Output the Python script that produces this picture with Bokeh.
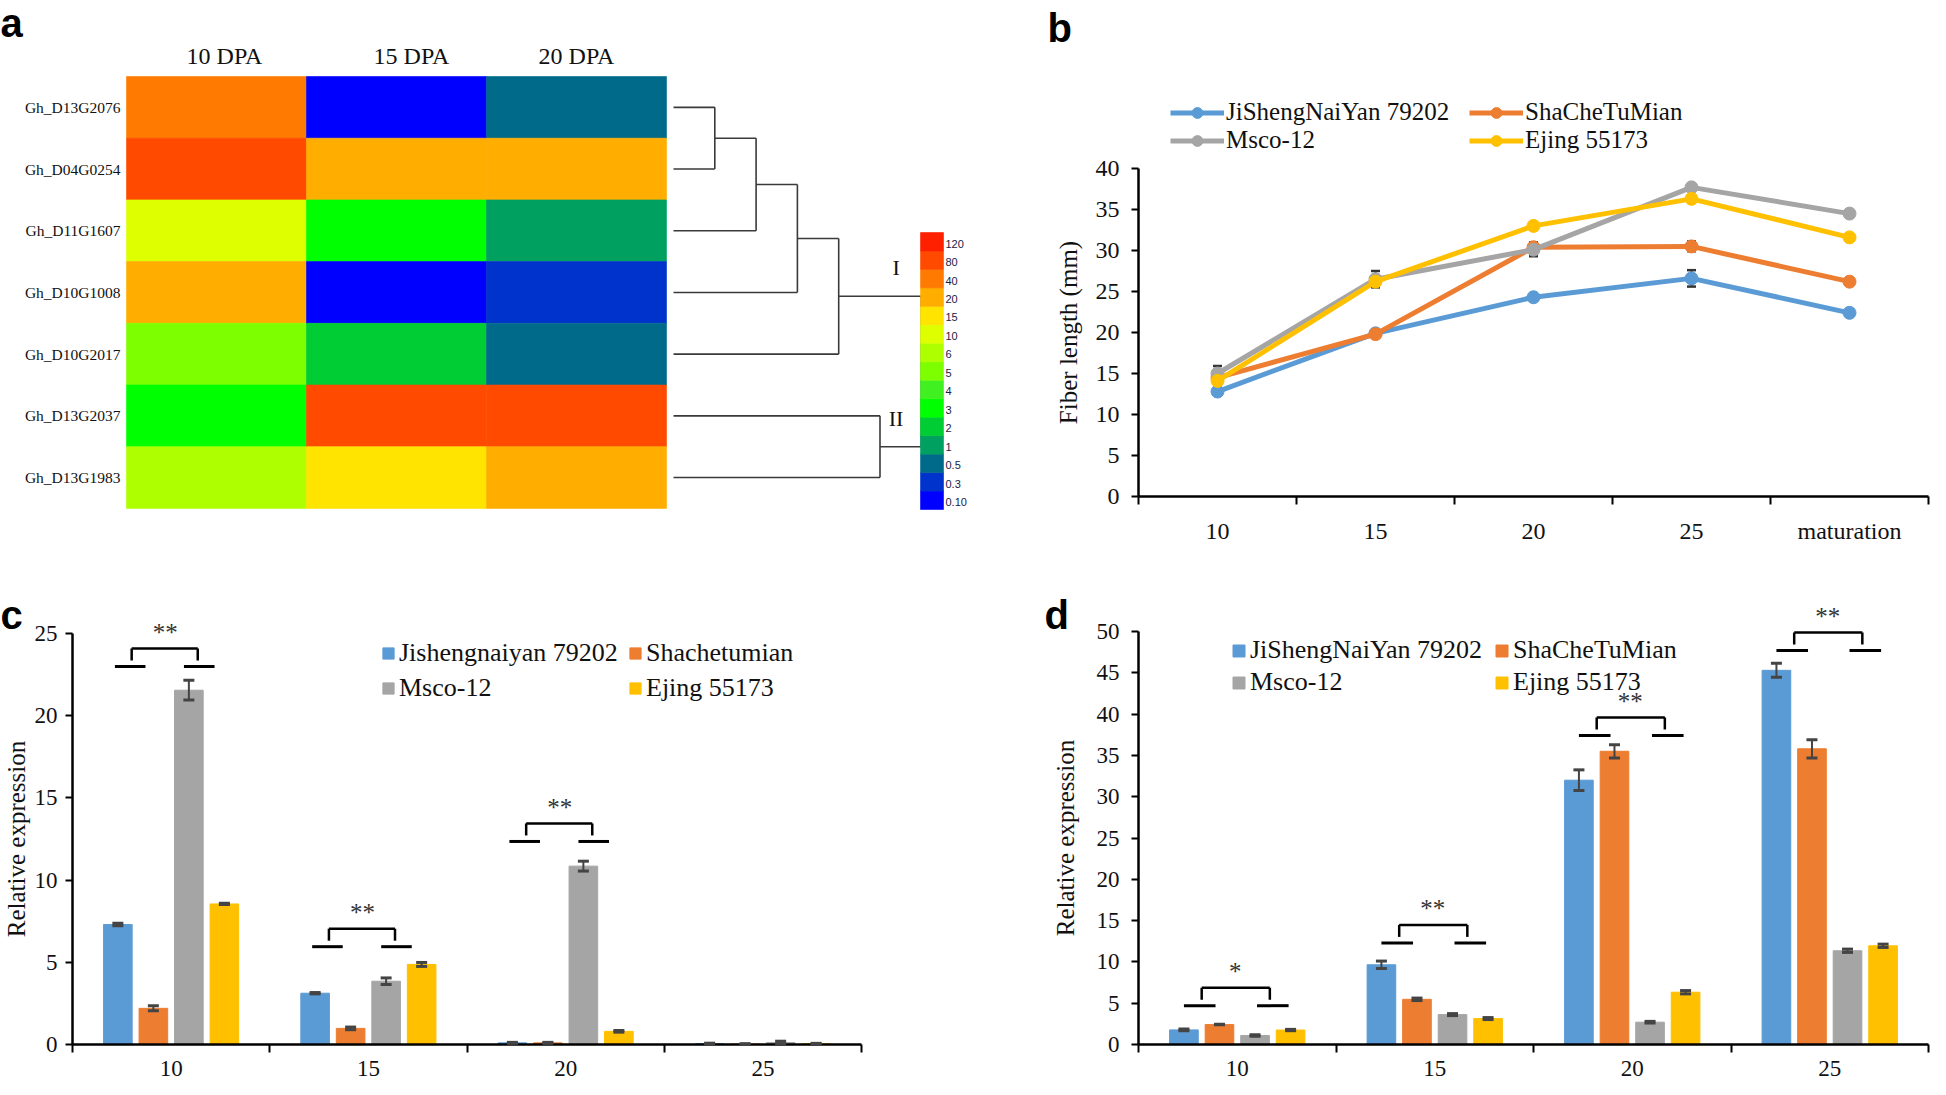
from bokeh.plotting import figure
from bokeh.models import (Range1d, FixedTicker, Label, Legend, LegendItem, Whisker,
                          ColumnDataSource, TeeHead)
from bokeh.layouts import column, row
from bokeh.embed import file_html
from bokeh.resources import INLINE
from bokeh.core.properties import value

SERIF = "Liberation Serif"
SANS = "Liberation Sans"

# ======================= DATA =======================
# ---- panel a : heatmap + clustering ----
genes = ["Gh_D13G2076", "Gh_D04G0254", "Gh_D11G1607", "Gh_D10G1008",
         "Gh_D10G2017", "Gh_D13G2037", "Gh_D13G1983"]
stages_a = ["10 DPA", "15 DPA", "20 DPA"]
expr_10dpa = [40, 80, 10, 20, 5, 3, 6]
expr_15dpa = [0.1, 20, 3, 0.1, 2, 80, 15]
expr_20dpa = [0.5, 20, 1, 0.3, 0.5, 80, 20]
scale_levels = [0.1, 0.3, 0.5, 1, 2, 3, 4, 5, 6, 10, 15, 20, 40, 80, 120]
scale_labels = ["0.10", "0.3", "0.5", "1", "2", "3", "4", "5", "6",
                "10", "15", "20", "40", "80", "120"]
scale_colors = ["#0000FF", "#0033CC", "#006A8A", "#00A060", "#00CC33", "#00FF00",
                "#40F020", "#7DFF00", "#AEFF00", "#DEFF00", "#FFE400", "#FFAE00",
                "#FF7A00", "#FF4A00", "#FF2000"]
tree_merges = [(0, 1), (7, 2), (8, 3), (9, 4), (5, 6), (10, 11)]
tree_heights = [1, 2, 3, 4, 5, 6]
cluster_nodes = [10, 11]
cluster_names = ["I", "II"]

# ---- panel b : fiber length ----
stages_b = ["10", "15", "20", "25", "maturation"]
cultivars_b = ["JiShengNaiYan 79202", "ShaCheTuMian", "Msco-12", "Ejing 55173"]
len_jisheng = [12.8, 19.9, 24.3, 26.6, 22.4]
len_shache = [14.5, 19.8, 30.4, 30.5, 26.2]
len_msco = [15.0, 26.5, 30.1, 37.7, 34.5]
len_ejing = [14.1, 26.2, 33.0, 36.3, 31.6]
err_jisheng = [0.3, 0.3, 0.3, 1.0, 0.3]
err_shache = [0.3, 0.3, 0.6, 0.6, 0.3]
err_msco = [0.9, 1.0, 0.8, 0.3, 0.3]
err_ejing = [0.3, 0.3, 0.3, 0.3, 0.3]

# ---- panel c : relative expression ----
stages_c = ["10", "15", "20", "25"]
cultivars_c = ["Jishengnaiyan 79202", "Shachetumian", "Msco-12", "Ejing 55173"]
c_jisheng = [7.3, 3.12, 0.1, 0.05]
c_shache = [2.2, 0.98, 0.1, 0.03]
c_msco = [21.55, 3.85, 10.85, 0.12]
c_ejing = [8.55, 4.87, 0.8, 0.05]
c_err_jisheng = [0.08, 0.04, 0.03, 0.03]
c_err_shache = [0.15, 0.08, 0.03, 0.02]
c_err_msco = [0.6, 0.2, 0.3, 0.08]
c_err_ejing = [0.04, 0.12, 0.05, 0.02]
c_sig_groups = ["10", "15", "20"]
c_sig_level = [23.0, 5.95, 12.35]
c_sig_marks = ["**", "**", "**"]

# ---- panel d : relative expression ----
stages_d = ["10", "15", "20", "25"]
cultivars_d = ["JiShengNaiYan 79202", "ShaCheTuMian", "Msco-12", "Ejing 55173"]
d_jisheng = [1.77, 9.65, 32.0, 45.3]
d_shache = [2.41, 5.47, 35.5, 35.8]
d_msco = [1.09, 3.62, 2.7, 11.35]
d_ejing = [1.75, 3.14, 6.33, 11.95]
d_err_jisheng = [0.12, 0.45, 1.25, 0.85]
d_err_shache = [0.03, 0.15, 0.8, 1.1]
d_err_msco = [0.1, 0.12, 0.1, 0.2]
d_err_ejing = [0.08, 0.12, 0.2, 0.2]
d_sig_groups = ["10", "15", "20", "25"]
d_sig_level = [4.7, 12.3, 37.4, 47.7]
d_sig_marks = ["*", "**", "**", "**"]

series_colors = ["#5B9BD5", "#ED7D31", "#A5A5A5", "#FFC000"]
TXT = "#111111"

# ======================= PANEL A =======================
A_W, A_H, A_X0, A_Y0 = 1034, 560, 8, 8
HM_LEFT, HM_TOP, CELL_W, CELL_H = 134, 84, 180, 61.7


def ax(px):
    return (px - HM_LEFT) / CELL_W


def ay(py):
    return (py - HM_TOP) / CELL_H


pa = figure(width=A_W, height=A_H,
            x_range=Range1d(ax(A_X0), ax(A_X0 + A_W)),
            y_range=Range1d(ay(A_Y0 + A_H), ay(A_Y0)),
            x_axis_location=None, y_axis_location=None, frame_align=False,
            output_backend="svg", toolbar_location=None, min_border=0)
pa.outline_line_color = None
pa.grid.visible = False

table = [expr_10dpa, expr_15dpa, expr_20dpa]
hm = dict(left=[], right=[], top=[], bottom=[], color=[])
for ci, col in enumerate(table):
    for ri, v in enumerate(col):
        hm["left"].append(ci)
        hm["right"].append(ci + 1)
        hm["top"].append(ri)
        hm["bottom"].append(ri + 1)
        hm["color"].append(scale_colors[scale_levels.index(v)])
pa.quad(left="left", right="right", top="top", bottom="bottom", fill_color="color",
        line_color="color", line_width=0.6, source=ColumnDataSource(hm))

header_x = [ax(232), ax(419), ax(584)]
pa.text(x=header_x, y=[ay(63)] * len(stages_a), text=stages_a,
        text_align="center", text_baseline="middle", text_font=value(SERIF),
        text_font_size="24px", text_color=TXT)
pa.text(x=[ax(128)] * len(genes), y=[i + 0.5 for i in range(len(genes))], text=genes,
        text_align="right", text_baseline="middle", text_font=value(SERIF),
        text_font_size="15.5px", text_color=TXT)

# dendrogram
TREE_X0, TREE_DX = ax(681), 41.3 / CELL_W
n = len(genes)
node_h = {i: 0 for i in range(n)}
node_y = {i: i + 0.5 for i in range(n)}
dxs, dys = [], []
for k, ((a, b), h) in enumerate(zip(tree_merges, tree_heights)):
    nid = n + k
    node_h[nid] = h
    node_y[nid] = (node_y[a] + node_y[b]) / 2
    for c in (a, b):
        dxs.append([TREE_X0 + node_h[c] * TREE_DX, TREE_X0 + h * TREE_DX])
        dys.append([node_y[c], node_y[c]])
    dxs.append([TREE_X0 + h * TREE_DX, TREE_X0 + h * TREE_DX])
    dys.append([node_y[a], node_y[b]])
pa.multi_line(xs=dxs, ys=dys, line_color="#3a3a3a", line_width=1.6)

root_h = tree_heights[-1]
pa.text(x=[TREE_X0 + root_h * TREE_DX - 0.14] * len(cluster_nodes),
        y=[node_y[c] - 0.46 for c in cluster_nodes], text=cluster_names,
        text_align="center", text_baseline="middle", text_font=value(SERIF),
        text_font_size="22px", text_color=TXT)

# colour key
CB_L, CB_R, CB_BOTTOM, CB_STEP = ax(928), ax(951), ay(517), (517 - 240) / 15 / CELL_H
cb = dict(top=[], bottom=[], color=scale_colors, lab=scale_labels, ly=[])
for i in range(len(scale_levels)):
    cb["bottom"].append(CB_BOTTOM - i * CB_STEP)
    cb["top"].append(CB_BOTTOM - (i + 1) * CB_STEP)
    cb["ly"].append(CB_BOTTOM - (i + 0.4) * CB_STEP)
cbs = ColumnDataSource(cb)
pa.quad(left=CB_L, right=CB_R, top="top", bottom="bottom", fill_color="color",
        line_color="color", line_width=0.6, source=cbs)
pa.text(x=ax(953), y="ly", text="lab", source=cbs, text_align="left", text_baseline="middle",
        text_font=value(SANS), text_font_size="11px", text_color="#1a1a48")

pa.add_layout(Label(x=ax(A_X0), y=ay(30), text="a", text_font=SANS, text_font_size="40px",
                    text_font_style="bold", text_color="black", text_baseline="alphabetic"))


# ======================= chart panels (frame = whole canvas, axes pinned) =======================
class Panel:
    def __init__(self, x0, y0, w, h, x_px, y_px, ngroups, ytop):
        # x_px: page px of x=0.5 and x=ngroups+0.5 ; y_px: page px of y=0 and y=ytop
        self.xppu = (x_px[1] - x_px[0]) / ngroups
        self.yppu = (y_px[0] - y_px[1]) / ytop
        self.xa, self.ya0 = x_px[0], y_px[0]
        xr = Range1d(self.dx(x0), self.dx(x0 + w))
        yr = Range1d(self.dy(y0 + h), self.dy(y0))
        self.p = figure(width=w, height=h, x_range=xr, y_range=yr, min_border=0,
                        frame_align=False, output_backend="svg", toolbar_location=None)

    def dx(self, px):
        return 0.5 + (px - self.xa) / self.xppu

    def dy(self, py):
        return (self.ya0 - py) / self.yppu


def style_axes(P, labels, yticks, ylabel, ylabel_std, xstd, ystd, tick_size):
    p = P.p
    xa = p.xaxis[0]
    ng = len(labels)
    xa.fixed_location = 0
    xa.bounds = (0.5, ng + 0.5)
    xa.ticker = FixedTicker(ticks=list(range(1, ng + 1)),
                            minor_ticks=[i + 0.5 for i in range(ng + 1)])
    xa.major_label_overrides = {i + 1: lab for i, lab in enumerate(labels)}
    xa.major_tick_in = 0
    xa.major_tick_out = 0
    xa.minor_tick_in = 0
    xa.minor_tick_out = 8
    xa.minor_tick_line_color = "black"
    xa.minor_tick_line_width = 2
    xa.major_label_standoff = xstd
    ya = p.yaxis[0]
    ya.fixed_location = 0.5
    ya.bounds = (0, yticks[-1])
    ya.ticker = FixedTicker(ticks=yticks)
    ya.major_tick_in = 0
    ya.major_tick_out = 7
    ya.minor_tick_out = 0
    ya.minor_tick_in = 0
    ya.major_label_standoff = ystd
    ya.axis_label = ylabel
    ya.axis_label_standoff = ylabel_std
    ya.axis_label_text_font = SERIF
    ya.axis_label_text_font_size = "25px"
    ya.axis_label_text_font_style = "normal"
    ya.axis_label_text_color = TXT
    for a in (xa, ya):
        a.axis_line_color = "black"
        a.axis_line_width = 2.5
        a.major_tick_line_color = "black"
        a.major_tick_line_width = 2
        a.major_label_text_font = SERIF
        a.major_label_text_font_size = tick_size
        a.major_label_text_color = TXT
    p.grid.visible = False
    p.outline_line_color = None


def panel_letter(P, letter, px, py):
    P.p.add_layout(Label(x=P.dx(px), y=P.dy(py), text=letter, text_font=SANS,
                         text_font_size="40px", text_font_style="bold", text_color="black",
                         text_baseline="alphabetic", text_align="left"))


# ======================= PANEL B =======================
PB = Panel(1042, 8, 896, 560, (1146, 1936), (504, 176), len(stages_b), 40)
pb = PB.p
style_axes(PB, stages_b, list(range(0, 41, 5)), "Fiber length (mm)", 11, 13, 12, "24px")

xb = [i + 1 for i in range(len(stages_b))]
items_b = []
for name, vals, errs, colr in zip(cultivars_b, [len_jisheng, len_shache, len_msco, len_ejing],
                                  [err_jisheng, err_shache, err_msco, err_ejing], series_colors):
    src = ColumnDataSource(dict(x=xb, y=vals, up=[v + e for v, e in zip(vals, errs)],
                                lo=[v - e for v, e in zip(vals, errs)]))
    pb.add_layout(Whisker(base="x", upper="up", lower="lo", source=src, level="underlay",
                          line_color="#333333", line_width=2,
                          upper_head=TeeHead(size=9, line_color="#333333", line_width=2.5),
                          lower_head=TeeHead(size=9, line_color="#333333", line_width=2.5)))
    r1 = pb.line("x", "y", source=src, line_color=colr, line_width=5)
    r2 = pb.scatter("x", "y", source=src, size=13, fill_color=colr, line_color=colr)
    items_b.append(LegendItem(label=name, renderers=[r1, r2]))
pb.add_layout(Legend(items=items_b, orientation="horizontal", ncols=2, location=(136, 406),
                     glyph_width=54, glyph_height=27, spacing=0, padding=0, margin=0,
                     label_standoff=2, label_width=243, label_text_font=SERIF,
                     label_text_font_size="25px", label_text_color=TXT,
                     border_line_color=None, background_fill_alpha=0))
panel_letter(PB, "b", 1055, 35)

# ======================= bar panels =======================
BAR_OFF = [-0.27, -0.09, 0.09, 0.27]
BAR_W = 0.145


def bar_panel(P, stages, names, vals_list, errs_list, legend_loc, legend_glyph, leg_spacing,
              label_w):
    p = P.p
    items = []
    for k, (name, vals, errs, colr) in enumerate(zip(names, vals_list, errs_list, series_colors)):
        xs = [i + 1 + BAR_OFF[k] for i in range(len(stages))]
        src = ColumnDataSource(dict(x=xs, top=vals, up=[v + e for v, e in zip(vals, errs)],
                                    lo=[max(v - e, 0) for v, e in zip(vals, errs)]))
        r = p.vbar(x="x", top="top", width=BAR_W, bottom=0, source=src,
                   fill_color=colr, line_color=colr)
        p.add_layout(Whisker(base="x", upper="up", lower="lo", source=src, level="annotation",
                             line_color="#444444", line_width=2,
                             upper_head=TeeHead(size=11, line_color="#444444", line_width=3),
                             lower_head=TeeHead(size=11, line_color="#444444", line_width=3)))
        items.append(LegendItem(label=name, renderers=[r]))
    p.add_layout(Legend(items=items, orientation="horizontal", ncols=2, location=legend_loc,
                        glyph_width=legend_glyph, glyph_height=legend_glyph,
                        spacing=leg_spacing, padding=0, margin=0, label_standoff=4,
                        label_width=label_w, label_text_font=SERIF,
                        label_text_font_size="26px", label_text_color=TXT,
                        border_line_color=None, background_fill_alpha=0))


def sig_marks(P, stages, groups, levels, marks, br, dl, dr, so):
    p, yppu = P.p, P.yppu
    gx = [stages.index(g) + 1 for g in groups]
    top = [lv + 18 / yppu for lv in levels]
    leg_end = [lv + 6 / yppu for lv in levels]
    p.segment(x0=[g + dl[0] for g in gx], x1=[g + dl[1] for g in gx], y0=levels, y1=levels,
              line_color="black", line_width=3)
    p.segment(x0=[g + dr[0] for g in gx], x1=[g + dr[1] for g in gx], y0=levels, y1=levels,
              line_color="black", line_width=3)
    p.segment(x0=[g + br[0] for g in gx], x1=[g + br[1] for g in gx], y0=top, y1=top,
              line_color="black", line_width=2.5)
    p.segment(x0=[g + br[0] for g in gx], x1=[g + br[0] for g in gx], y0=top, y1=leg_end,
              line_color="black", line_width=2.5)
    p.segment(x0=[g + br[1] for g in gx], x1=[g + br[1] for g in gx], y0=top, y1=leg_end,
              line_color="black", line_width=2.5)
    p.text(x=[g + so for g in gx], y=[lv + 34 / yppu for lv in levels], text=marks,
           text_align="center", text_baseline="middle", text_font=value(SERIF),
           text_font_size="25px", text_color="#333333")


# ======================= PANEL C =======================
PC = Panel(8, 568, 1034, 519, (80, 869), (1052, 641), len(stages_c), 25)
style_axes(PC, stages_c, list(range(0, 26, 5)), "Relative expression", 2, 8, 8, "23px")
bar_panel(PC, stages_c, cultivars_c, [c_jisheng, c_shache, c_msco, c_ejing],
          [c_err_jisheng, c_err_shache, c_err_msco, c_err_ejing], (381, 376), 14, 5, 224)
sig_marks(PC, stages_c, c_sig_groups, c_sig_level, c_sig_marks,
          (-0.20, 0.135), (-0.285, -0.13), (0.065, 0.22), -0.03)
panel_letter(PC, "c", 8, 622)

# ======================= PANEL D =======================
PD = Panel(1042, 568, 896, 519, (1146, 1936), (1052, 639), len(stages_d), 50)
style_axes(PD, stages_d, list(range(0, 51, 5)), "Relative expression", 15, 8, 12, "23px")
bar_panel(PD, stages_d, cultivars_d, [d_jisheng, d_shache, d_msco, d_ejing],
          [d_err_jisheng, d_err_shache, d_err_msco, d_err_ejing], (197, 382), 15, 2, 242)
sig_marks(PD, stages_d, d_sig_groups, d_sig_level, d_sig_marks,
          (-0.18, 0.165), (-0.27, -0.11), (0.10, 0.26), -0.01)
panel_letter(PD, "d", 1052, 622)

layout = column(row(pa, pb), row(PC.p, PD.p))
open("out.html", "w").write(file_html(layout, INLINE))
